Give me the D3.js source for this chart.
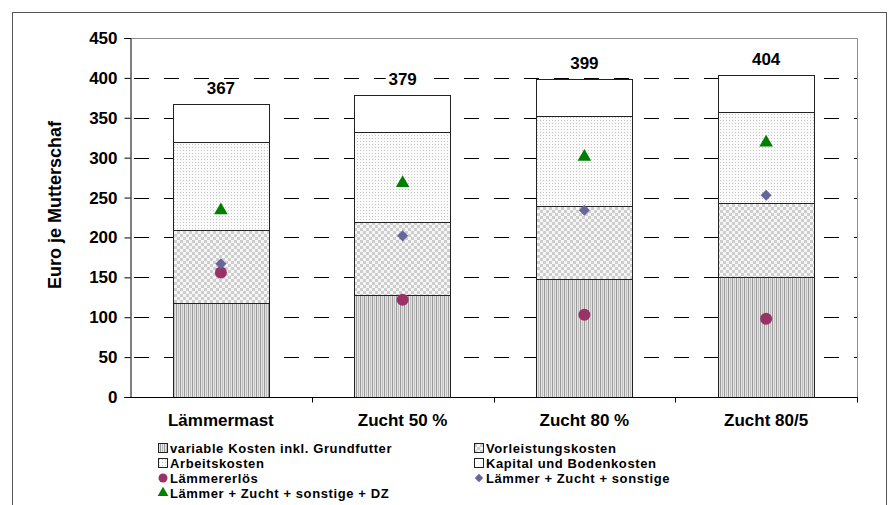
<!DOCTYPE html>
<html><head><meta charset="utf-8">
<script src="https://cdn.jsdelivr.net/npm/d3@7/dist/d3.min.js"></script>
<style>body{margin:0;background:#fff}svg{display:block;font-family:"Liberation Sans",Arial,sans-serif}</style>
</head><body><svg id="c" width="890" height="505"></svg>
<script>
const categories = ["Lämmermast", "Zucht 50 %", "Zucht 80 %", "Zucht 80/5"];
const variableKosten = [118, 128, 148, 151];
const vorleistungskosten = [91, 91, 91, 92];
const arbeitskosten = [111, 113, 113, 114];
const kapitalBodenkosten = [47, 47, 47, 47];
const totals = [367, 379, 399, 404];
const laemmererloes = [156, 122, 103, 98];
const laemmerZuchtSonstige = [167, 202, 234, 253];
const laemmerZuchtSonstigeDZ = [234, 268, 301, 319];
const yTicks = [0, 50, 100, 150, 200, 250, 300, 350, 400, 450];

(function(){
const svg = d3.select("#c");
const defs = svg.append("defs");
// patterns
const pStripe = defs.append("pattern").attr("id","pStripe").attr("patternUnits","userSpaceOnUse").attr("width",4).attr("height",4);
pStripe.append("rect").attr("width",4).attr("height",4).attr("fill","#e4e4e4");
pStripe.append("rect").attr("x",0).attr("width",1).attr("height",4).attr("fill","#9a9a9a");
pStripe.append("rect").attr("x",2).attr("width",1).attr("height",4).attr("fill","#c0c0c0");
const pCheck = defs.append("pattern").attr("id","pCheck").attr("patternUnits","userSpaceOnUse").attr("width",6).attr("height",6);
pCheck.append("rect").attr("width",6).attr("height",6).attr("fill","#f6f6f6");
pCheck.append("rect").attr("x",0).attr("y",0).attr("width",3).attr("height",3).attr("fill","#cdcdcd");
pCheck.append("rect").attr("x",3).attr("y",3).attr("width",3).attr("height",3).attr("fill","#cdcdcd");
const pDot = defs.append("pattern").attr("id","pDot").attr("patternUnits","userSpaceOnUse").attr("width",3).attr("height",3);
pDot.append("rect").attr("width",3).attr("height",3).attr("fill","#fbfbfb");
pDot.append("rect").attr("x",0).attr("y",0).attr("width",1).attr("height",1).attr("fill","#c4c4c4");

// outer frame
svg.append("rect").attr("x",12.5).attr("y",12.5).attr("width",874).attr("height",520).attr("fill","none").attr("stroke","#555").attr("stroke-width",1);

const pL = 130, pR = 857, pT = 38, pB = 397;
const x = d3.scaleBand().domain(categories).range([pL, pR]).paddingInner(0.47).paddingOuter(0.235);
const xb = d3.scaleBand().domain(categories).range([pL, pR]);
const y = d3.scaleLinear().domain([0, 450]).range([pB, pT]);

// plot border (top/right gray)
svg.append("path").attr("d",`M${pL},${pT+0.5}H${pR+0.5}V${pB}`).attr("fill","none").attr("stroke","#8c8c8c");

// gridlines
svg.append("g").selectAll("line").data(yTicks.filter(d=>d>0 && d<450)).join("line")
  .attr("x1",pL).attr("x2",pR).attr("y1",d=>Math.round(y(d))+0.5).attr("y2",d=>Math.round(y(d))+0.5)
  .attr("stroke","#000").attr("stroke-dasharray","15,15").attr("stroke-dashoffset",-4);

// stacked bars
const layers = [
  {vals: variableKosten, fill: "url(#pStripe)"},
  {vals: vorleistungskosten, fill: "url(#pCheck)"},
  {vals: arbeitskosten, fill: "url(#pDot)"},
  {vals: kapitalBodenkosten, fill: "#fff"}
];
const gBars = svg.append("g");
categories.forEach((c, i) => {
  let base = 0;
  layers.forEach(l => {
    const v = l.vals[i];
    const y0 = y(base), y1 = y(base + v);
    gBars.append("rect").attr("x", Math.round(x(c))+0.5).attr("y", Math.round(y1)+0.5)
      .attr("width", Math.round(x.bandwidth())).attr("height", Math.round(y0)-Math.round(y1))
      .attr("fill", l.fill).attr("stroke","#222").attr("stroke-width",1);
    base += v;
  });
});

// total labels (with white background like the reference)
const gLab = svg.append("g");
categories.forEach((c, i) => {
  const lx = x(c) + x.bandwidth()/2, ly = y(totals[i]) - 10;
  gLab.append("rect").attr("x", lx - 17).attr("y", ly - 14).attr("width", 34).attr("height", 17).attr("fill", "#fff");
  gLab.append("text").attr("x", lx).attr("y", ly)
    .attr("text-anchor","middle").attr("font-size",17).attr("font-weight","bold").text(totals[i]);
});

// axes
const yAxis = svg.append("g").attr("transform",`translate(${pL+0.5},0)`)
  .call(d3.axisLeft(y).tickValues(yTicks).tickSize(6).tickPadding(7));
yAxis.select(".domain").attr("stroke","#000");
yAxis.selectAll("text").attr("font-size",17).attr("font-weight","bold").attr("fill","#000").attr("font-family","Liberation Sans, Arial, sans-serif");
const xAxisG = svg.append("g").attr("transform",`translate(0,${pB+0.5})`);
xAxisG.append("line").attr("x1",pL).attr("x2",pR+1).attr("stroke","#000");
xAxisG.selectAll(".tk").data(d3.range(1,categories.length+1)).join("line").attr("class","tk")
  .attr("x1",i=>Math.round(pL + xb.step()*i)+0.5).attr("x2",i=>Math.round(pL + xb.step()*i)+0.5).attr("y1",0).attr("y2",5).attr("stroke","#000");
xAxisG.selectAll("text").data(categories).join("text")
  .attr("x", c => xb(c) + xb.bandwidth()/2).attr("y", 28)
  .attr("text-anchor","middle").attr("font-size",17).attr("font-weight","bold").text(c=>c);

// y title
svg.append("text").attr("transform",`translate(61,205) rotate(-90)`)
  .attr("text-anchor","middle").attr("font-size",18).attr("font-weight","bold").text("Euro je Mutterschaf");

// markers
const cx = c => x(c) + x.bandwidth()/2;
svg.append("g").selectAll("circle").data(categories).join("circle")
  .attr("cx", cx).attr("cy",(c,i)=>y(laemmererloes[i])).attr("r",6).attr("fill","#993366");
const diamond = d3.symbol().type(d3.symbolDiamond2).size(78);
svg.append("g").selectAll("path").data(categories).join("path")
  .attr("d", diamond).attr("transform",(c,i)=>`translate(${cx(c)},${y(laemmerZuchtSonstige[i])})`).attr("fill","#666699");
const tri = d3.symbol().type(d3.symbolTriangle).size(80);
svg.append("g").selectAll("path").data(categories).join("path")
  .attr("d", tri).attr("transform",(c,i)=>`translate(${cx(c)},${y(laemmerZuchtSonstigeDZ[i])})`).attr("fill","#008000");

// legend
const legendItems = [
  {label:"variable Kosten inkl. Grundfutter", type:"box", fill:"url(#pStripe)", col:0, row:0},
  {label:"Vorleistungskosten", type:"box", fill:"url(#pCheck)", col:1, row:0},
  {label:"Arbeitskosten", type:"box", fill:"url(#pDot)", col:0, row:1},
  {label:"Kapital und Bodenkosten", type:"box", fill:"#fff", col:1, row:1},
  {label:"Lämmererlös", type:"circle", fill:"#993366", col:0, row:2},
  {label:"Lämmer + Zucht + sonstige", type:"diamond", fill:"#666699", col:1, row:2},
  {label:"Lämmer + Zucht + sonstige + DZ", type:"tri", fill:"#008000", col:0, row:3}
];
const colX = [158, 474], rowY = [448, 463, 478, 493];
const lg = svg.append("g");
legendItems.forEach(it => {
  const gx = colX[it.col], gy = rowY[it.row];
  if (it.type === "box") {
    lg.append("rect").attr("x",gx+0.5).attr("y",gy-4.5).attr("width",9).attr("height",9).attr("fill",it.fill).attr("stroke","#222");
  } else if (it.type === "circle") {
    lg.append("circle").attr("cx",gx+5).attr("cy",gy).attr("r",4.5).attr("fill",it.fill);
  } else if (it.type === "diamond") {
    lg.append("path").attr("d",d3.symbol().type(d3.symbolDiamond2).size(45)).attr("transform",`translate(${gx+5},${gy})`).attr("fill",it.fill);
  } else {
    lg.append("path").attr("d",d3.symbol().type(d3.symbolTriangle).size(50)).attr("transform",`translate(${gx+5},${gy})`).attr("fill",it.fill);
  }
  lg.append("text").attr("x",gx+12).attr("y",gy+4.5).attr("font-size",13).attr("font-weight","bold")
    .style("letter-spacing","0.6px").text(it.label);
});
})();
</script></body></html>
